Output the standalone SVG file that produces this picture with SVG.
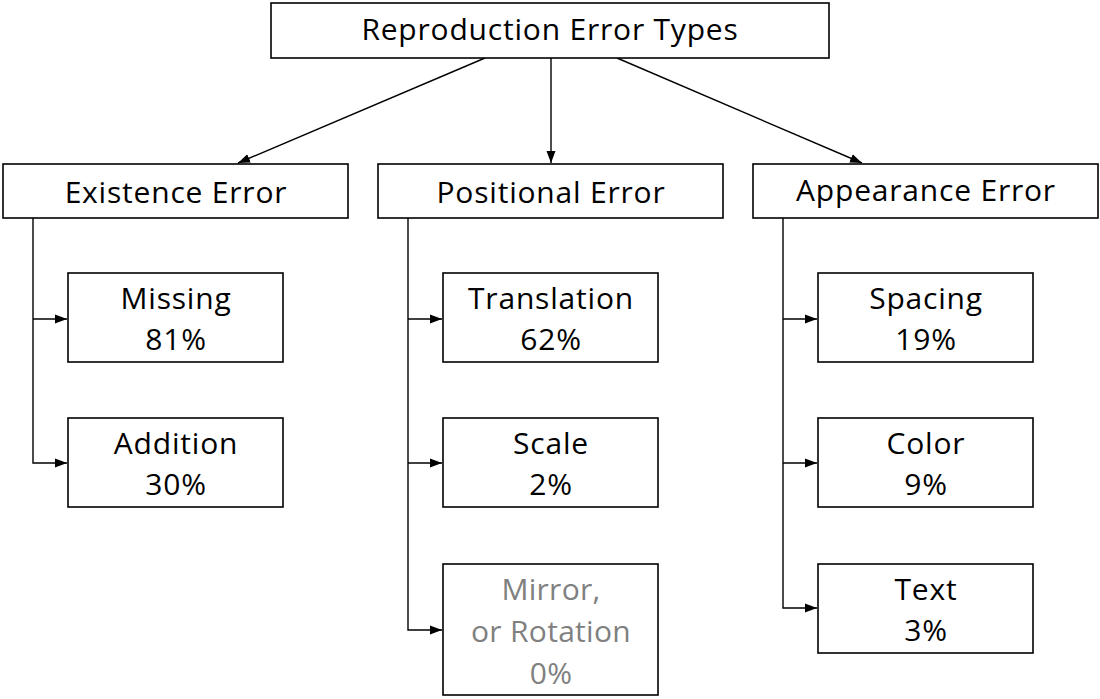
<svg xmlns="http://www.w3.org/2000/svg" width="1100" height="699" viewBox="0 0 1100 699">
<style>
.box{fill:#fff;stroke:#000;stroke-width:1.6}
.t{font-family:"Open Sans","Liberation Sans",sans-serif;font-size:30px;letter-spacing:0.8px;fill:#000;text-anchor:middle}
.g{fill:#808080;letter-spacing:0.3px}
.c{fill:none;stroke:#000;stroke-width:1.4}
</style>
<defs>
<marker id="ah" viewBox="0 0 12 10" refX="12" refY="5" markerWidth="12" markerHeight="10" markerUnits="userSpaceOnUse" orient="auto">
<path d="M0,0.5 L12,5 L0,9.5 Z" fill="#000"/>
</marker>
</defs>
<g id="connectors">
<line class="c" x1="485" y1="58" x2="238" y2="163" marker-end="url(#ah)"/>
<line class="c" x1="551" y1="58" x2="551" y2="163" marker-end="url(#ah)"/>
<line class="c" x1="617" y1="58" x2="862" y2="163" marker-end="url(#ah)"/>
<polyline class="c" points="33,218 33,463 67,463" marker-end="url(#ah)"/>
<line class="c" x1="33" y1="319" x2="67" y2="319" marker-end="url(#ah)"/>
<polyline class="c" points="408,218 408,630 442,630" marker-end="url(#ah)"/>
<line class="c" x1="408" y1="319" x2="442" y2="319" marker-end="url(#ah)"/>
<line class="c" x1="408" y1="463" x2="442" y2="463" marker-end="url(#ah)"/>
<polyline class="c" points="783,218 783,608 817,608" marker-end="url(#ah)"/>
<line class="c" x1="783" y1="319" x2="817" y2="319" marker-end="url(#ah)"/>
<line class="c" x1="783" y1="463" x2="817" y2="463" marker-end="url(#ah)"/>
</g>
<g id="root"><rect class="box" x="271" y="3" width="558" height="55"/><text class="t" x="550" y="40">Reproduction Error Types</text></g>
<g id="existence"><rect class="box" x="3" y="164" width="345" height="54"/><text class="t" x="176" y="203">Existence Error</text></g>
<g id="positional"><rect class="box" x="378" y="164" width="345" height="54"/><text class="t" x="551" y="203">Positional Error</text></g>
<g id="appearance"><rect class="box" x="753" y="164" width="345" height="54"/><text class="t" x="926" y="201">Appearance Error</text></g>
<g id="missing"><rect class="box" x="68" y="273" width="215" height="89"/><text class="t" x="176" y="309">Missing</text><text class="t" x="176" y="350">81%</text></g>
<g id="addition"><rect class="box" x="68" y="418" width="215" height="89"/><text class="t" x="176" y="454">Addition</text><text class="t" x="176" y="495">30%</text></g>
<g id="translation"><rect class="box" x="443" y="273" width="215" height="89"/><text class="t" x="551" y="309">Translation</text><text class="t" x="551" y="350">62%</text></g>
<g id="scale"><rect class="box" x="443" y="418" width="215" height="89"/><text class="t" x="551" y="454">Scale</text><text class="t" x="551" y="495">2%</text></g>
<g id="mirror"><rect class="box" x="443" y="564" width="215" height="131"/><text class="t g" x="551" y="600">Mirror,</text><text class="t g" x="551" y="642">or Rotation</text><text class="t g" x="551" y="684">0%</text></g>
<g id="spacing"><rect class="box" x="818" y="273" width="215" height="89"/><text class="t" x="926" y="309">Spacing</text><text class="t" x="926" y="350">19%</text></g>
<g id="color"><rect class="box" x="818" y="418" width="215" height="89"/><text class="t" x="926" y="454">Color</text><text class="t" x="926" y="495">9%</text></g>
<g id="text"><rect class="box" x="818" y="564" width="215" height="89"/><text class="t" x="926" y="600">Text</text><text class="t" x="926" y="641">3%</text></g>
</svg>
